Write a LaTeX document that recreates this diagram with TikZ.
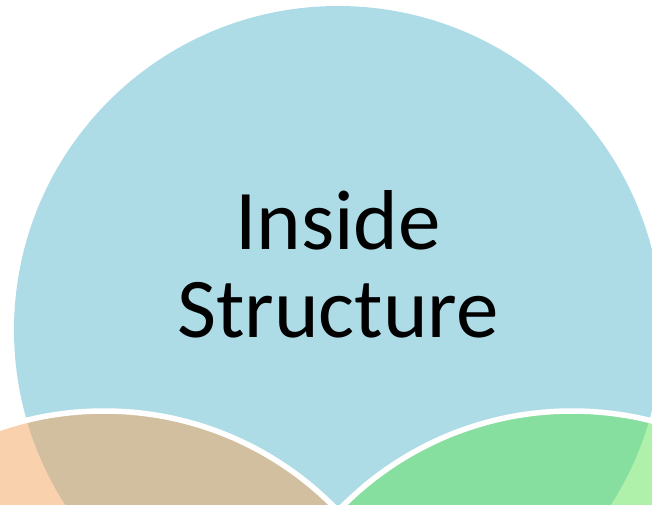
\documentclass[tikz,border=0pt]{standalone}
\usepackage{fontspec}
\setmainfont{Carlito}
\definecolor{insideblue}{RGB}{173,220,231}
\definecolor{leftorange}{RGB}{244,166,96}
\definecolor{rightgreen}{RGB}{102,226,94}
\tikzset{
  lowercircle/.style={draw=white, line width=5.5pt, fill opacity=0.52},
}
\begin{document}
\begin{tikzpicture}[x=1pt, y=-1pt]
    \useasboundingbox (0,0) rectangle (652,504);
    % Glowne kolo
    \fill[insideblue] (338,330) circle[radius=324pt];
    \node[font=\fontsize{85}{88}\selectfont, align=center, inner sep=0pt] (inside) at (338,264) {Inside\\Structure};

    % Dolne kola
    \filldraw[lowercircle, fill=leftorange] (104,735) circle[radius=324pt];
    \filldraw[lowercircle, fill=rightgreen] (572,735) circle[radius=324pt];
\end{tikzpicture}
\end{document}
